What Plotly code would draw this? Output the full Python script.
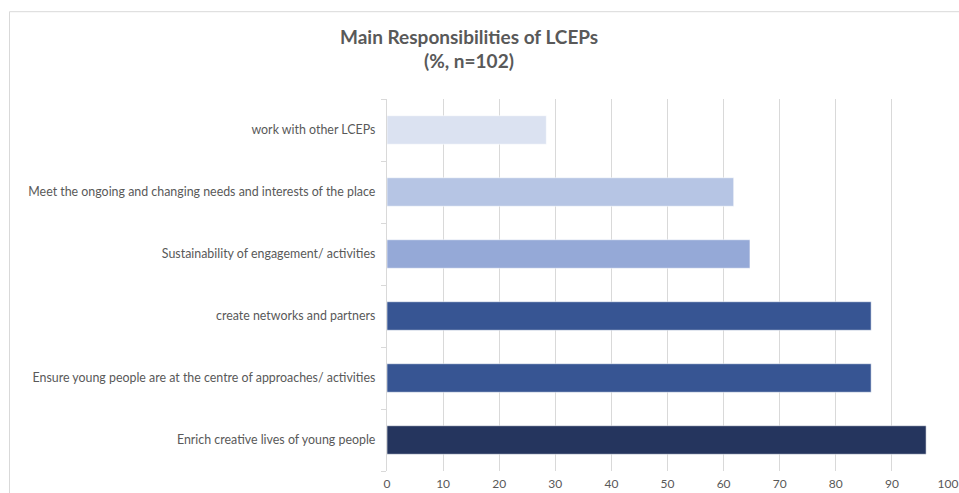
import plotly.graph_objects as go

categories = [
    "Enrich creative lives of young people",
    "Ensure young people are at the centre of approaches/ activities",
    "create networks and partners",
    "Sustainability of engagement/ activities",
    "Meet the ongoing and changing needs and interests of the place",
    "work with other LCEPs",
]
values = [96.1, 86.3, 86.3, 64.7, 61.8, 28.4]
colors = ["#25355e", "#375593", "#375593", "#95a9d7", "#b6c5e4", "#dbe2f1"]
x_ticks = [0, 10, 20, 30, 40, 50, 60, 70, 80, 90, 100]
title_line1 = "Main Responsibilities of LCEPs"
title_line2 = "(%, n=102)"

W, H = 959, 493
L, R, T, B = 387, 11, 99, 22
pw, ph = W - L - R, H - T - B

def px_x(px):
    return (px - L) / pw

def px_y(py):
    return (H - B - py) / ph

fig = go.Figure(go.Bar(
    y=categories, x=values, orientation="h",
    marker=dict(color=colors, line=dict(color="rgba(255,255,255,0.55)", width=1)),
    hoverinfo="x+y",
))

text_color = "#595959"
fig.update_layout(
    width=W, height=H,
    margin=dict(l=L, r=R, t=T, b=B, autoexpand=False),
    paper_bgcolor="white", plot_bgcolor="white",
    bargap=0.54,
    showlegend=False,
    font=dict(family="Lato, Arial, sans-serif", color=text_color),
    xaxis=dict(
        range=[0, 100], tickvals=x_ticks, ticks="",
        showgrid=True, gridcolor="#d9d9d9", gridwidth=1.3,
        zeroline=False, showline=False, automargin=False,
        tickfont=dict(size=12, color=text_color),
        ticklabelstandoff=4, fixedrange=True,
    ),
    yaxis=dict(
        showline=True, linecolor="#d9d9d9", linewidth=1.3,
        ticks="outside", ticklen=5, tickcolor="#d9d9d9", tickwidth=1,
        tickson="boundaries", showgrid=False, automargin=False,
        tickfont=dict(size=12.4, color=text_color),
        ticklabelstandoff=8, fixedrange=True,
    ),
    shapes=[dict(
        type="rect", xref="paper", yref="paper",
        x0=px_x(9.5), x1=px_x(975), y0=px_y(500), y1=px_y(11.7),
        line=dict(color="#d9d9d9", width=1), fillcolor="rgba(0,0,0,0)", layer="below",
    )],
    annotations=[
        dict(text="<b>" + title_line1 + "</b>", xref="paper", yref="paper",
             x=px_x(469), y=px_y(37), xanchor="center", yanchor="middle",
             showarrow=False, font=dict(size=19, color=text_color)),
        dict(text="<b>" + title_line2 + "</b>", xref="paper", yref="paper",
             x=px_x(469), y=px_y(60.5), xanchor="center", yanchor="middle",
             showarrow=False, font=dict(size=19, color=text_color)),
    ],
)

fig.write_html(
    "out.html",
    config={"displayModeBar": False},
    post_script="document.body.style.margin='0';document.body.style.overflow='hidden';",
)
